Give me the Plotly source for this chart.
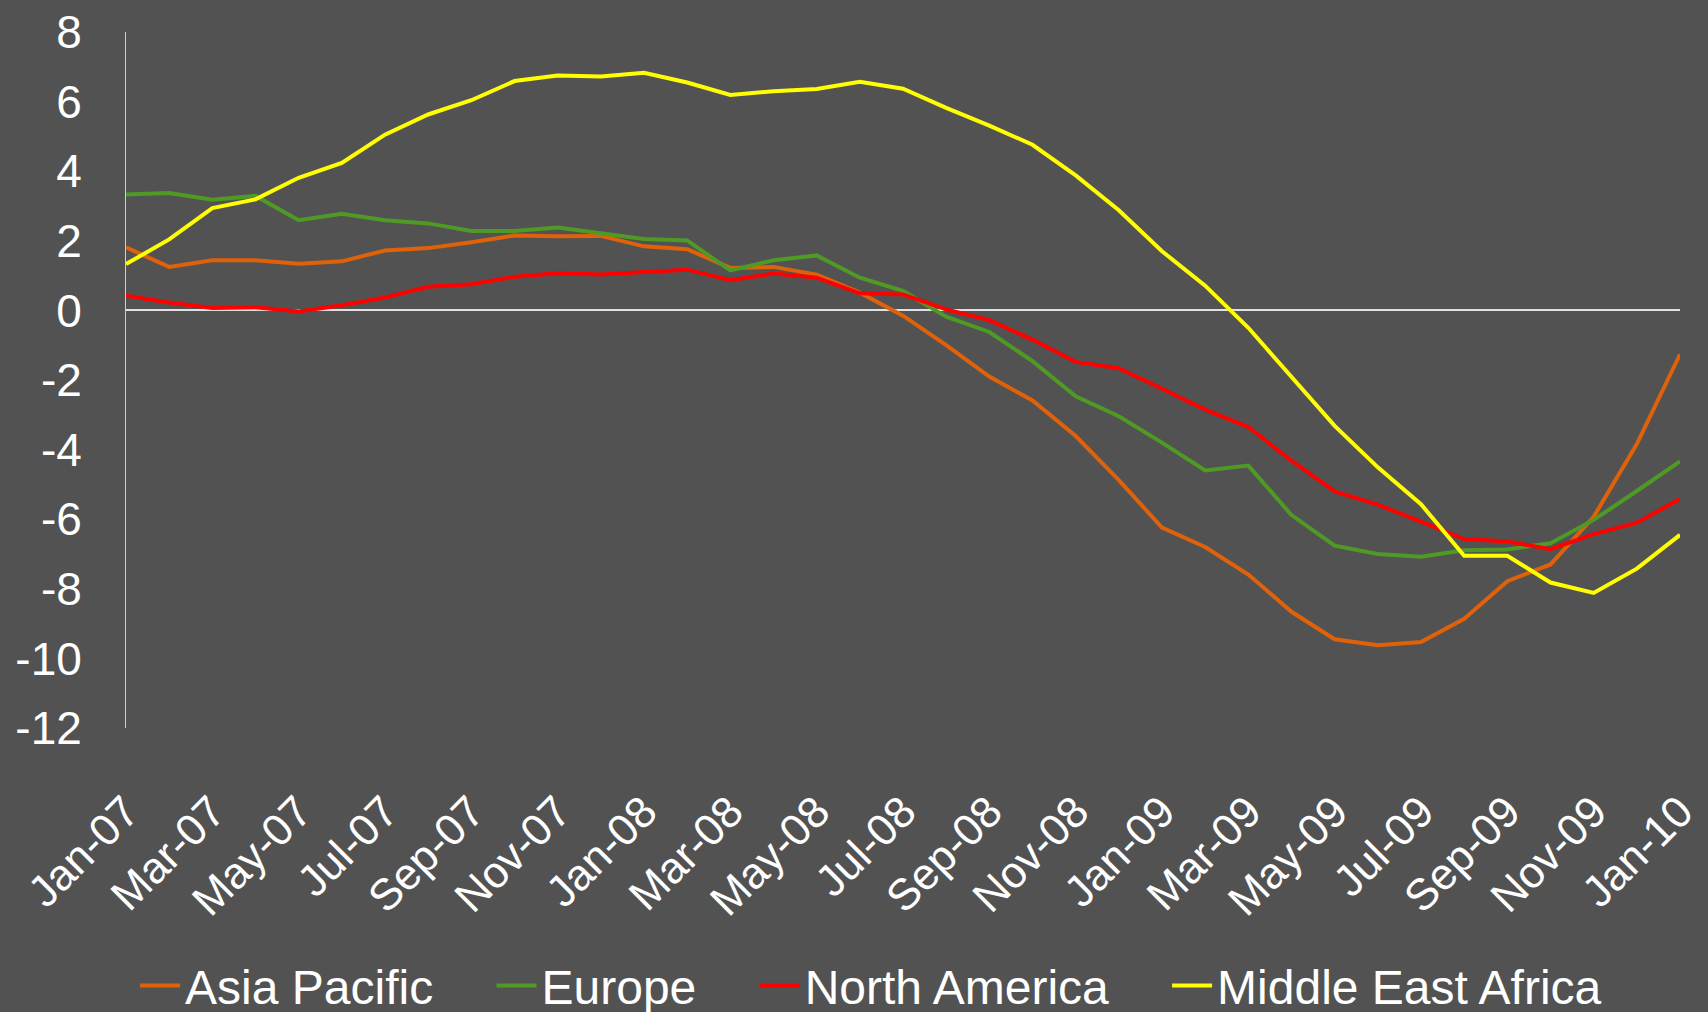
import plotly.graph_objects as go

# monthly, Jan-07 .. Jan-10
months = [f"{m}-{y:02d}" for y in (7, 8, 9) for m in
          ["Jan", "Feb", "Mar", "Apr", "May", "Jun", "Jul", "Aug", "Sep", "Oct", "Nov", "Dec"]] + ["Jan-10"]

asia_pacific = [1.81, 1.25, 1.44, 1.44, 1.34, 1.41, 1.72, 1.79, 1.96, 2.15, 2.13, 2.14, 1.84, 1.76, 1.22, 1.25,
                1.03, 0.51, -0.15, -1.00, -1.90, -2.59, -3.61, -4.88, -6.24, -6.80, -7.59, -8.66, -9.45, -9.62,
                -9.53, -8.86, -7.78, -7.30, -5.93, -3.84, -1.26]
europe = [3.33, 3.37, 3.18, 3.29, 2.59, 2.78, 2.59, 2.50, 2.28, 2.28, 2.38, 2.22, 2.05, 2.01, 1.15, 1.44,
          1.58, 0.94, 0.56, -0.18, -0.62, -1.46, -2.47, -3.04, -3.80, -4.60, -4.46, -5.88, -6.76, -7.00,
          -7.08, -6.89, -6.87, -6.69, -6.02, -5.19, -4.34]
north_america = [0.42, 0.23, 0.07, 0.09, -0.03, 0.15, 0.37, 0.68, 0.75, 0.97, 1.07, 1.03, 1.10, 1.17, 0.87,
                 1.06, 0.94, 0.49, 0.46, 0.03, -0.28, -0.84, -1.48, -1.66, -2.25, -2.85, -3.35, -4.32, -5.20,
                 -5.58, -6.07, -6.57, -6.64, -6.86, -6.43, -6.10, -5.42]
middle_east_africa = [1.33, 2.04, 2.94, 3.19, 3.81, 4.24, 5.05, 5.63, 6.04, 6.59, 6.75, 6.72, 6.83, 6.55, 6.19,
                      6.30, 6.36, 6.57, 6.37, 5.82, 5.31, 4.76, 3.88, 2.88, 1.70, 0.71, -0.50, -1.90, -3.32,
                      -4.51, -5.57, -7.05, -7.05, -7.82, -8.12, -7.42, -6.45]

y_ticks = [8, 6, 4, 2, 0, -2, -4, -6, -8, -10, -12]
y_tick_text = [str(v) for v in y_ticks]  # plain hyphen, like the original

series = [
    ("Asia Pacific", asia_pacific, "#DF620A"),
    ("Europe", europe, "#4E9A25"),
    ("North America", north_america, "#FF0000"),
    ("Middle East Africa", middle_east_africa, "#FFFF00"),
]

pad = "\u00a0" * 4  # wider gaps between legend entries
fig = go.Figure()
for i, (name, values, color) in enumerate(series):
    label = name + (pad if i < len(series) - 1 else "")
    fig.add_trace(go.Scatter(x=months, y=values, name=label, mode="lines",
                             line=dict(width=4, color=color)))

fig.update_layout(
    width=1708, height=1012,
    paper_bgcolor="#525252", plot_bgcolor="#525252",
    margin=dict(l=126, r=6, t=27, b=284),
    font=dict(family="Liberation Sans, Arial", color="white"),
    showlegend=True,
    legend=dict(orientation="h", xref="container", yref="container", x=0.51, y=0.026,
                xanchor="center", yanchor="middle", font=dict(size=48),
                itemwidth=40, bgcolor="rgba(0,0,0,0)"),
)
fig.update_xaxes(type="category", tickvals=months[::2], tickangle=-45, tickfont=dict(size=44),
                 showgrid=False, showline=False, zeroline=False, ticks="", ticklabelstandoff=48)
fig.update_yaxes(range=[-12, 8], tickvals=y_ticks, ticktext=y_tick_text, tickfont=dict(size=46),
                 showgrid=False, showline=True, linecolor="#D0D0D0", linewidth=1,
                 zeroline=True, zerolinecolor="#E0E0E0", zerolinewidth=1.5, ticks="", ticklabelstandoff=34)

fig.write_html("out.html", config={"displayModeBar": False},
               post_script="document.body.style.margin='0';")
